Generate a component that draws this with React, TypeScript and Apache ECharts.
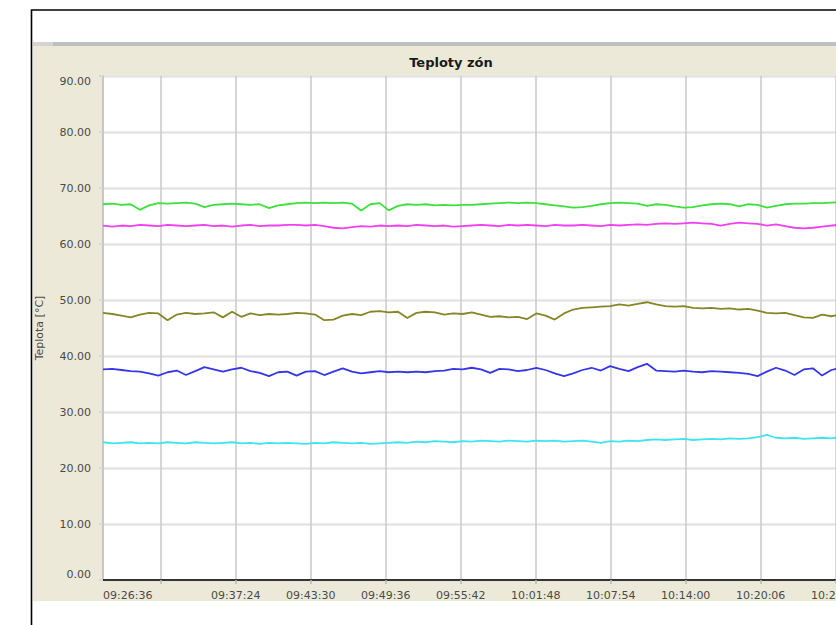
import React, { useEffect, useRef } from "react";
import * as echarts from "echarts";

const chartTitle = "Teploty zón";
const yAxisName = "Teplota [°C]";
const sampleStart = "09:26:36";
const sampleStepSec = 45;
const gridTimes = ["09:31:18", "09:37:24", "09:43:30", "09:49:36", "09:55:42", "10:01:48", "10:07:54", "10:14:00", "10:20:06", "10:26:12"];
const labelTimes = ["09:26:36", "09:37:24", "09:43:30", "09:49:36", "09:55:42", "10:01:48", "10:07:54", "10:14:00", "10:20:06", "10:26:12"];

const zoneGreen = [
  67.1, 67.2, 67.0, 67.1, 66.1, 66.9, 67.3, 67.2, 67.3, 67.4,
  67.2, 66.6, 67.0, 67.1, 67.2, 67.1, 67.0, 67.1, 66.4, 66.9,
  67.1, 67.3, 67.4, 67.3, 67.4, 67.3, 67.4, 67.2, 66.0, 67.1,
  67.3, 66.0, 66.8, 67.1, 67.0, 67.1, 66.9, 67.0, 66.9, 67.0,
  67.0, 67.1, 67.2, 67.3, 67.4, 67.3, 67.4, 67.3, 67.1, 66.9,
  66.7, 66.5, 66.6, 66.8, 67.1, 67.3, 67.4, 67.3, 67.2, 66.8,
  67.1, 67.0, 66.7, 66.5, 66.6, 66.9, 67.1, 67.2, 67.1, 66.7,
  67.1, 67.0, 66.5, 66.8, 67.1, 67.2, 67.2, 67.3, 67.3, 67.4,
  67.5, 67.4, 67.5,
];
const zoneMagenta = [
  63.3, 63.1, 63.3, 63.2, 63.4, 63.3, 63.2, 63.4, 63.3, 63.2,
  63.3, 63.4, 63.2, 63.3, 63.1, 63.3, 63.4, 63.2, 63.3, 63.3,
  63.4, 63.4, 63.3, 63.4, 63.2, 62.9, 62.8, 63.0, 63.2, 63.1,
  63.3, 63.2, 63.3, 63.2, 63.4, 63.3, 63.2, 63.3, 63.1, 63.2,
  63.3, 63.4, 63.3, 63.2, 63.4, 63.3, 63.4, 63.3, 63.2, 63.4,
  63.3, 63.3, 63.4, 63.3, 63.2, 63.4, 63.3, 63.4, 63.5, 63.4,
  63.6, 63.7, 63.6, 63.7, 63.8, 63.7, 63.6, 63.3, 63.6, 63.8,
  63.7, 63.6, 63.3, 63.5, 63.2, 62.9, 62.8, 62.9, 63.1, 63.3,
  63.4, 63.4, 63.5,
];
const zoneOlive = [
  47.7, 47.5, 47.2, 46.9, 47.4, 47.7, 47.6, 46.4, 47.4, 47.7,
  47.5, 47.6, 47.8, 46.9, 47.9, 47.0, 47.6, 47.3, 47.5, 47.4,
  47.5, 47.7, 47.6, 47.4, 46.4, 46.5, 47.2, 47.5, 47.3, 47.9,
  48.0, 47.8, 47.9, 46.8, 47.7, 47.9, 47.8, 47.4, 47.6, 47.5,
  47.8, 47.4, 47.0, 47.1, 46.9, 47.0, 46.6, 47.6, 47.2, 46.5,
  47.6, 48.3, 48.6, 48.7, 48.8, 48.9, 49.2, 49.0, 49.3, 49.6,
  49.2, 48.9, 48.8, 48.9, 48.6, 48.5, 48.6, 48.4, 48.5, 48.3,
  48.4, 48.1, 47.7, 47.6, 47.7, 47.3, 46.9, 46.8, 47.4, 47.1,
  47.4, 47.2, 47.5,
];
const zoneBlue = [
  37.6, 37.7, 37.5, 37.3, 37.2, 36.9, 36.5, 37.1, 37.4, 36.6,
  37.3, 38.0, 37.6, 37.2, 37.6, 37.9, 37.3, 37.0, 36.4, 37.1,
  37.2, 36.5, 37.2, 37.3, 36.6, 37.2, 37.8, 37.2, 36.9, 37.1,
  37.3, 37.1, 37.2, 37.1, 37.2, 37.1, 37.3, 37.4, 37.7, 37.6,
  37.9, 37.6, 37.0, 37.7, 37.6, 37.3, 37.5, 37.9, 37.5, 36.9,
  36.4, 36.9, 37.5, 37.9, 37.4, 38.2, 37.7, 37.3, 38.0, 38.6,
  37.4, 37.3, 37.2, 37.4, 37.2, 37.1, 37.3, 37.2, 37.1, 37.0,
  36.8, 36.4, 37.2, 37.9, 37.4, 36.6, 37.6, 37.8, 36.5, 37.5,
  37.9, 37.6, 37.4,
];
const zoneCyan = [
  24.6, 24.4, 24.5, 24.6, 24.4, 24.5, 24.4, 24.6, 24.5, 24.4,
  24.6, 24.5, 24.4, 24.5, 24.6, 24.4, 24.5, 24.3, 24.5, 24.4,
  24.5, 24.4, 24.3, 24.5, 24.4, 24.6, 24.5, 24.4, 24.5, 24.3,
  24.4, 24.5, 24.6, 24.5, 24.7, 24.6, 24.8, 24.7, 24.6, 24.8,
  24.7, 24.9, 24.8, 24.7, 24.9, 24.8, 24.7, 24.9, 24.8, 24.9,
  24.7, 24.8, 24.9, 24.7, 24.5, 24.8, 24.7, 24.9, 24.8, 25.0,
  25.1, 25.0, 25.1, 25.2, 25.0, 25.1, 25.2, 25.1, 25.3, 25.2,
  25.3, 25.5, 25.9, 25.4, 25.3, 25.4, 25.2, 25.3, 25.4, 25.3,
  25.5, 25.4, 25.5,
];

const seriesNames = ["Zóna 1", "Zóna 2", "Zóna 3", "Zóna 4", "Zóna 5"];
const seriesColors = ["#3ee03e", "#f040f0", "#868628", "#3636e8", "#3ee4f0"];

const FONT = "DejaVu Sans";

function toSec(t: string): number {
  const [h, m, s] = t.split(":").map(Number);
  return h * 3600 + m * 60 + s;
}
function fmt(sec: number): string {
  const h = Math.floor(sec / 3600);
  const m = Math.floor((sec % 3600) / 60);
  const s = Math.round(sec % 60);
  const p = (n: number) => (n < 10 ? "0" + n : "" + n);
  return p(h) + ":" + p(m) + ":" + p(s);
}

export default function App() {
  const ref = useRef<HTMLDivElement>(null);
  useEffect(() => {
    if (!ref.current) return;
    const chart = echarts.init(ref.current, undefined, { renderer: "svg" });
    const start = toSec(sampleStart);
    const all = [zoneGreen, zoneMagenta, zoneOlive, zoneBlue, zoneCyan];
    const n = zoneGreen.length;
    const xmax = start + (n - 1) * sampleStepSec;
    const option: any = {
      animation: false,
      backgroundColor: "transparent",
      title: {
        text: chartTitle,
        left: 446,
        top: 51,
        textAlign: "center",
        textStyle: { fontSize: 13, fontWeight: "bold", color: "#1a1a1a", fontFamily: FONT },
      },
      grid: {
        left: 103,
        top: 76,
        bottom: 45,
        right: 21,
        show: true,
        backgroundColor: "#ffffff",
        borderWidth: 0,
        containLabel: false,
        outerBoundsMode: "none",
      },
      graphic: [
        { type: "rect", z: -10, silent: true, shape: { x: 31.5, y: 10, width: 900, height: 700 }, style: { fill: "#ffffff", stroke: "#000000", lineWidth: 1.6 } },
        { type: "rect", z: -9, silent: true, shape: { x: 33, y: 42, width: 900, height: 4 }, style: { fill: "#bfbfbf" } },
        { type: "rect", z: -9, silent: true, shape: { x: 33, y: 42, width: 20, height: 4 }, style: { fill: "#d4d4d4" } },
        { type: "rect", z: -9, silent: true, shape: { x: 33, y: 46, width: 900, height: 555 }, style: { fill: "#ece9d8" } },
      ],
      xAxis: {
        type: "value",
        min: start,
        max: xmax,
        axisLine: { show: true, onZero: false, lineStyle: { color: "#333333", width: 2 } },
        axisTick: { show: true, customValues: gridTimes.map(toSec), length: 4, lineStyle: { color: "#b8b8b8", width: 1.5 } },
        axisLabel: {
          customValues: labelTimes.map(toSec),
          formatter: (v: number) => fmt(v),
          fontSize: 11,
          color: "#4a4a4a",
          fontFamily: FONT,
          margin: 10,
          alignMinLabel: "left",
          showMinLabel: true,
          showMaxLabel: true,
        },
        splitLine: { show: true, lineStyle: { color: "#c8c8c8", width: 1.5 } },
      },
      yAxis: {
        type: "value",
        min: 0,
        max: 90,
        interval: 10,
        name: yAxisName,
        nameLocation: "middle",
        nameGap: 58,
        nameRotate: 90,
        nameTextStyle: { fontSize: 11, color: "#4a4a4a", fontFamily: FONT },
        axisLine: { show: true, onZero: false, lineStyle: { color: "#b8b8b8", width: 1.5 } },
        axisTick: { show: true, length: 4, lineStyle: { color: "#d8d8d8", width: 2 } },
        axisLabel: {
          fontSize: 11,
          color: "#4a4a4a",
          fontFamily: FONT,
          margin: 12,
          formatter: (v: number) => v.toFixed(2),
          verticalAlignMinLabel: "bottom",
          verticalAlignMaxLabel: "top",
        },
        splitLine: { show: true, lineStyle: { color: "#e4e4e4", width: 2.5 } },
      },
      series: all.map((arr, k) => ({
        name: seriesNames[k],
        type: "line",
        symbol: "none",
        showSymbol: false,
        clip: true,
        data: arr.map((v, i) => [start + i * sampleStepSec, v]),
        lineStyle: { color: seriesColors[k], width: 1.8 },
        itemStyle: { color: seriesColors[k] },
      })),
    };
    chart.setOption(option);
    return () => chart.dispose();
  }, []);
  return (
    <div style={{ position: "fixed", left: 0, top: 0, width: 836, height: 625, overflow: "hidden", background: "#ffffff" }}>
      <div ref={ref} style={{ width: 880, height: 625 }} />
    </div>
  );
}
